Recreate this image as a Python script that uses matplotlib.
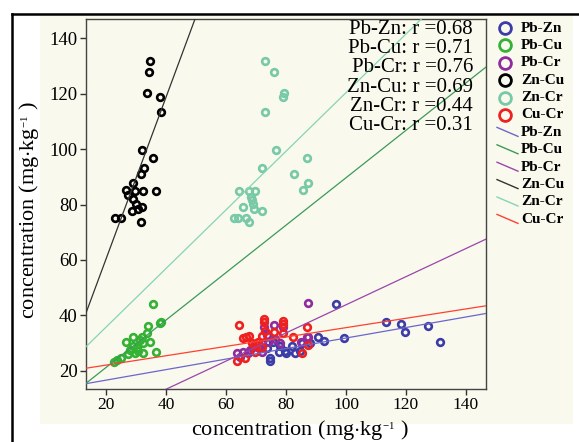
import numpy as np
import matplotlib
matplotlib.use('Agg')
import matplotlib.pyplot as plt
from matplotlib.lines import Line2D
from matplotlib.patches import Rectangle

plt.rcParams['font.family'] = ['Liberation Serif', 'DejaVu Serif']
plt.rcParams['mathtext.fontset'] = 'custom'
plt.rcParams['mathtext.rm'] = 'Liberation Serif'

# --- data ---
pairs = ['Pb-Zn', 'Pb-Cu', 'Pb-Cr', 'Zn-Cu', 'Zn-Cr', 'Cu-Cr']
r_values = [0.68, 0.71, 0.76, 0.69, 0.44, 0.31]

pb_zn_x = [131.3, 127.4, 119.8, 118.4, 113.2, 99.3, 96.6, 92.8, 90.6, 88.0, 85.2,
           84.7, 83.0, 81.9, 80.0, 78.0, 77.8, 75.5, 74.7, 74.7, 73.6, 79.5]
pb_zn_y = [30.5, 36.3, 34.1, 36.9, 37.7, 31.8, 44.2, 30.7, 32.3, 30.0, 30.1,
           27.2, 26.3, 28.9, 26.5, 28.9, 26.9, 30.5, 24.5, 23.5, 28.1, 27.0]

pb_cu_x = [35.6, 38.3, 38.0, 34.1, 33.6, 29.1, 31.9, 26.6, 34.6, 31.3, 32.2,
           29.1, 30.2, 28.0, 30.8, 32.4, 29.7, 27.2, 36.6, 24.9, 23.8, 22.7]
pb_cu_y = [44.2, 37.7, 37.1, 36.2, 33.7, 32.3, 32.3, 30.5, 30.5, 31.1, 29.9,
           28.9, 28.1, 27.5, 27.2, 26.3, 26.3, 25.9, 26.6, 24.5, 23.9, 23.3]

pb_cr_x = [87.2, 87.4, 84.9, 76.1, 79.1, 72.7, 74.1, 71.9, 69.1, 65.8, 63.6,
           64.7, 67.4, 71.9, 76.3, 86.9, 71.1, 73.5, 68.0, 78.0]
pb_cr_y = [44.3, 32.3, 30.5, 36.5, 35.9, 35.9, 30.5, 29.9, 28.7, 26.9, 26.3,
           25.1, 26.5, 26.9, 31.3, 32.3, 28.1, 33.0, 27.5, 30.0]

zn_cu_x = [34.7, 34.2, 33.8, 38.1, 38.4, 31.9, 35.7, 32.6, 31.7, 29.1, 26.6, 29.7,
           32.2, 36.6, 27.3, 29.1, 29.9, 32.0, 30.6, 28.8, 22.9, 24.9, 31.7]
zn_cu_y = [131.7, 128.0, 120.4, 118.9, 113.6, 99.7, 96.9, 93.2, 90.9, 87.7, 85.2, 85.0,
           84.8, 85.0, 83.5, 81.9, 80.2, 79.2, 78.3, 77.5, 75.0, 75.0, 73.6]

zn_cr_x = [73.0, 76.1, 79.3, 79.0, 73.0, 76.8, 87.1, 71.9, 82.6, 87.3, 85.6, 64.4,
           67.7, 69.7, 68.3, 68.8, 69.1, 65.7, 69.2, 72.0, 62.7, 64.1, 66.7, 67.8]
zn_cr_y = [131.7, 127.8, 120.4, 118.9, 113.6, 99.7, 96.9, 93.2, 90.9, 87.7, 85.2, 84.9,
           84.9, 84.9, 82.8, 81.6, 80.2, 79.2, 78.3, 77.7, 75.2, 75.0, 75.2, 73.6]

cu_cr_x = [64.4, 72.8, 72.7, 79.1, 79.1, 65.8, 67.8, 68.6, 71.9, 73.0, 76.0, 79.1,
           82.4, 87.1, 87.4, 85.2, 63.6, 66.3, 69.7, 71.9, 70.8, 66.7, 69.5]
cu_cr_y = [36.5, 38.7, 37.7, 38.1, 36.9, 31.7, 32.5, 30.1, 32.5, 34.4, 34.1, 33.7,
           32.0, 35.7, 29.3, 26.5, 23.6, 24.5, 26.9, 28.7, 30.5, 32.3, 29.5]

# fitted lines: y = slope * x + intercept
slopes = [0.19, 0.856, 0.508, 2.92, 1.058, 0.169]
intercepts = [12.8, 4.07, -7.0, 2.0, 14.6, 18.65]

xs = [pb_zn_x, pb_cu_x, pb_cr_x, zn_cu_x, zn_cr_x, cu_cr_x]
ys = [pb_zn_y, pb_cu_y, pb_cr_y, zn_cu_y, zn_cr_y, cu_cr_y]

marker_colors = ['#3c3ca8', '#33b233', '#8e2c9e', '#000000', '#78c9a6', '#ee2020']
line_colors = ['#6b66cc', '#3c9a58', '#9a45aa', '#333333', '#86d4b4', '#ff4030']

W, H = 579, 442
bg = '#f9f9ee'


def fx(px):
    return px / W


def fy(py):
    return 1 - py / H


fig = plt.figure(figsize=(W / 100, H / 100), dpi=100, facecolor='white')

# beige panel and the black frame of the original figure
fig.add_artist(Rectangle((fx(40), fy(424)), fx(573) - fx(40), fy(15) - fy(424),
                         transform=fig.transFigure, facecolor=bg, edgecolor='none', zorder=0))
fig.add_artist(Line2D([fx(11.5), fx(11.5)], [fy(13.5), fy(460)], transform=fig.transFigure,
                      color='black', lw=1.8))
fig.add_artist(Line2D([fx(11.5), fx(600)], [fy(13.5), fy(13.5)], transform=fig.transFigure,
                      color='black', lw=1.8))

ax = fig.add_axes([fx(86), fy(389), fx(486) - fx(86), fy(19) - fy(389)])
ax.set_facecolor(bg)

for x, y, c in zip(xs, ys, marker_colors):
    ax.plot(x, y, 'o', ms=4.8, mfc='none', mec=c, mew=1.9, zorder=3)

xlim = (13.3, 146.7)
ylim = (13.4, 147.0)
xline = np.array(xlim)
for s, b, c in zip(slopes, intercepts, line_colors):
    ax.plot(xline, s * xline + b, color=c, lw=0.9, zorder=4)

ax.set_xlim(xlim)
ax.set_ylim(ylim)
ax.set_xticks(range(20, 141, 20))
ax.set_yticks(range(20, 141, 20))
ax.tick_params(direction='out', length=4, width=1, color='#333333')
ax.tick_params(axis='x', labelsize=12.5, pad=2)
ax.tick_params(axis='y', labelsize=13.5, pad=2)
for sp in ax.spines.values():
    sp.set_color('#444444')
    sp.set_linewidth(1.0)

# r values
for i, (name, r) in enumerate(zip(pairs, r_values)):
    fig.text(fx(473), fy(29 + i * 19.4), f'{name}: r =%.2f' % r, ha='right', va='center',
             fontsize=15)

# legend drawn beside the axes
for i, (name, c) in enumerate(zip(pairs, marker_colors)):
    yy = 28 + i * 17.4
    fig.add_artist(Line2D([fx(505)], [fy(yy)], transform=fig.transFigure, marker='o',
                          ms=8.5, mfc='none', mec=c, mew=2.0, linestyle='none'))
    fig.text(fx(521), fy(yy), name, ha='left', va='center', fontsize=11, fontweight='bold')
for i, (name, c) in enumerate(zip(pairs, line_colors)):
    yy = 28 + (i + 6) * 17.4
    fig.add_artist(Line2D([fx(497), fx(518)], [fy(yy - 5), fy(yy + 4)],
                          transform=fig.transFigure, color=c, lw=1.0))
    fig.text(fx(521), fy(yy), name, ha='left', va='center', fontsize=11, fontweight='bold')

label = 'concentration (mg$\\cdot$kg$^{{}_{\\mathregular{-1}}}$ )'
fig.text(fx(300), fy(430), label, ha='center', va='center', fontsize=16)
fig.text(fx(29), fy(210), label, ha='center', va='center', rotation=90, fontsize=16)

fig.savefig('out.png', dpi=100, facecolor='white')
